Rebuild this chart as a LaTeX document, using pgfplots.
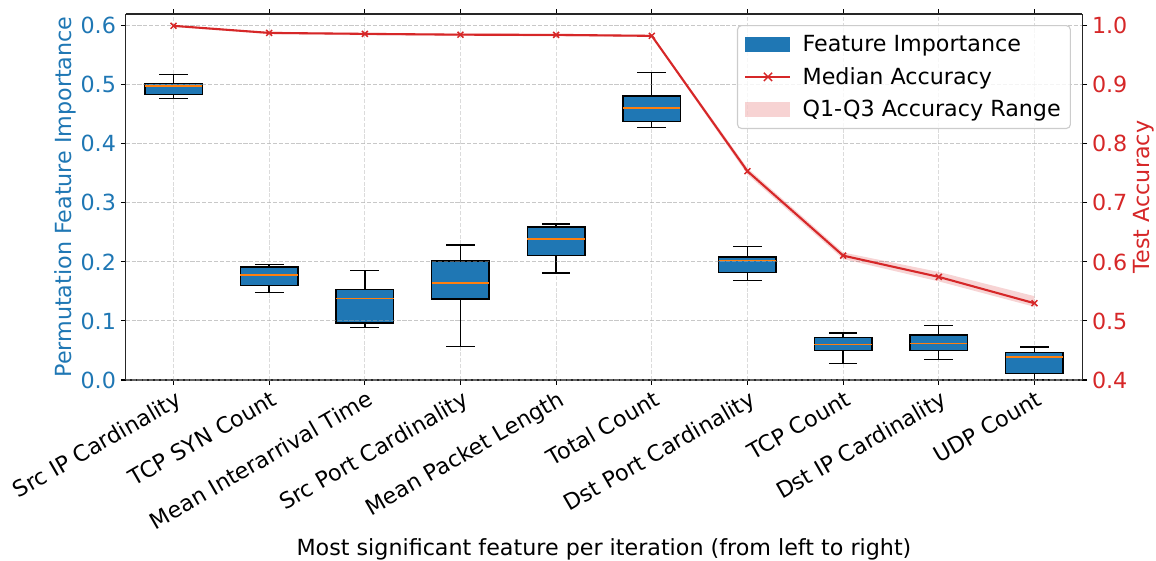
\documentclass[border=0pt]{standalone}
\usepackage{pgfplots}
\pgfplotsset{compat=1.18}
\usepgfplotslibrary{statistics}
\usepackage{fontspec}
\setmainfont{DejaVu Sans}

\definecolor{mplblue}{HTML}{1F77B4}
\definecolor{mplorange}{HTML}{FF7F0E}
\definecolor{mplred}{HTML}{D62728}
\definecolor{gridgray}{HTML}{B0B0B0}
\definecolor{legframe}{HTML}{CCCCCC}

\newcommand\mplfont{\fontsize{16bp}{19bp}\selectfont}

% Median test accuracy per iteration
\pgfplotstableread{
x  med
0  1.000
1  0.988
2  0.9864
3  0.985
4  0.9847
5  0.983
6  0.7537
7  0.6107
8  0.5746
9  0.530
}\acctable

% Q1-Q3 band outline: upper edge (Q3) left to right, lower edge (Q1) back
\pgfplotstableread{
x  y
0  1.000
1  0.990
2  0.988
3  0.987
4  0.986
5  0.985
6  0.759
7  0.616
8  0.583
9  0.542
9  0.524
8  0.567
7  0.605
6  0.748
5  0.981
4  0.982
3  0.983
2  0.984
1  0.986
0  0.998
}\bandtable

\pgfplotsset{
  common/.style={
    scale only axis,
    width=688.8bp, height=263.5bp,
    at={(0,0)}, anchor=south west,
    xmin=-0.5, xmax=9.5,
    tick align=outside,
    major tick length=3.5bp,
    every tick/.style={line width=0.8bp, black},
    tick label style={font=\mplfont},
    label style={font=\mplfont},
    /pgf/number format/assume math mode=true,
    /pgf/number format/fixed,
    /pgf/number format/fixed zerofill,
    /pgf/number format/precision=1,
    axis line style={line width=1bp, black!85},
    grid style={gridgray, opacity=0.45, line width=0.8bp, dash pattern=on 2.96bp off 1.28bp},
  },
  mybox/.style n args={5}{
    boxplot prepared={
      lower whisker=#1, lower quartile=#2, median=#3,
      upper quartile=#4, upper whisker=#5,
      box extend=0.6, whisker extend=0.3},
  },
}

\begin{document}
\begin{tikzpicture}
\useasboundingbox (-90.5bp,-130.3bp) rectangle (741.9bp,273.6bp);

% left axis: permutation importance box plots
\begin{axis}[
  common,
  ymin=0, ymax=0.62,
  ytick={0,0.1,...,0.6},
  xtick={0,...,9},
  xticklabels={Src IP Cardinality, TCP SYN Count, Mean Interarrival Time,
    Src Port Cardinality, Mean Packet Length, Total Count,
    Dst Port Cardinality, TCP Count, Dst IP Cardinality, UDP Count},
  xticklabel style={rotate=30, anchor=north east, inner sep=1bp, yshift=-2bp},
  yticklabel style={text=mplblue},
  axis y line*=left,
  xmajorgrids, ymajorgrids,
  ylabel={Permutation Feature Importance},
  ylabel style={text=mplblue, at={(axis description cs:-0.0567,0.5)}, anchor=base, inner sep=0pt},
  xlabel={Most significant feature per iteration (from left to right)},
  xlabel style={at={(axis description cs:0.5,-0.480)}, anchor=base, inner sep=0pt},
  boxplot/every box/.style={fill=mplblue, draw=black, line width=1bp},
  boxplot/every whisker/.style={draw=black, line width=1bp},
  boxplot/every median/.style={draw=mplorange, line width=1bp},
  boxplot/draw direction=y,
]
\addplot[mybox={0.477}{0.4836}{0.498}{0.502}{0.518}, boxplot/draw position=0] coordinates {};
\addplot[mybox={0.148}{0.160}{0.178}{0.1915}{0.1955}, boxplot/draw position=1] coordinates {};
\addplot[mybox={0.0893}{0.0966}{0.1384}{0.153}{0.185}, boxplot/draw position=2] coordinates {};
\addplot[mybox={0.057}{0.137}{0.164}{0.2017}{0.2288}, boxplot/draw position=3] coordinates {};
\addplot[mybox={0.181}{0.2107}{0.239}{0.2593}{0.264}, boxplot/draw position=4] coordinates {};
\addplot[mybox={0.428}{0.4384}{0.4605}{0.4814}{0.521}, boxplot/draw position=5] coordinates {};
\addplot[mybox={0.1684}{0.1825}{0.2028}{0.2085}{0.226}, boxplot/draw position=6] coordinates {};
\addplot[mybox={0.0282}{0.0503}{0.0599}{0.0723}{0.0797}, boxplot/draw position=7] coordinates {};
\addplot[mybox={0.0345}{0.0503}{0.0616}{0.0763}{0.092}, boxplot/draw position=8] coordinates {};
\addplot[mybox={0.001}{0.0107}{0.039}{0.0469}{0.0559}, boxplot/draw position=9] coordinates {};
\end{axis}

% right axis: test accuracy
\begin{axis}[
  common,
  ymin=0.4, ymax=1.02,
  ytick={0.4,0.5,...,1.0},
  axis y line*=right,
  axis x line=none,
  ymajorgrids,
  yticklabel style={text=mplred},
  ylabel={Test Accuracy},
  ylabel style={text=mplred, at={(axis description cs:1.0708,0.5)}, anchor=base, inner sep=0pt},
  legend cell align=left,
  legend style={
    at={(axis description cs:0.9882,0.970)}, anchor=north east,
    font=\mplfont,
    draw=legframe, line width=0.8bp, rounded corners=3bp,
    fill=white, fill opacity=0.8, text opacity=1,
    inner xsep=5bp, inner ysep=5bp,
    row sep=6bp,
    /tikz/every odd column/.append style={column sep=6bp},
  },
]
\addplot[fill=mplred, fill opacity=0.2, draw=none, forget plot] table[x=x, y=y] {\bandtable};
\addplot[mplred, line width=1.5bp, mark=x, mark size=3bp, mark options={line width=1.1bp}, forget plot]
  table[x=x, y=med] {\acctable};

\addlegendimage{legend image code/.code={\path[fill=mplblue, fill opacity=1, draw=none, sharp corners] (0bp,-5.5bp) rectangle (32.4bp,5.5bp);}}
\addlegendentry{Feature Importance}
\addlegendimage{legend image code/.code={
  \draw[mplred, draw opacity=1, line width=1.5bp, sharp corners] (0bp,0bp) -- (32.4bp,0bp);
  \draw[mplred, draw opacity=1, line width=1.1bp, sharp corners] (13.2bp,-3bp) -- (19.2bp,3bp) (13.2bp,3bp) -- (19.2bp,-3bp);}}
\addlegendentry{Median Accuracy}
\addlegendimage{legend image code/.code={\path[fill=mplred, fill opacity=0.2, draw=none, sharp corners] (0bp,-5.5bp) rectangle (32.4bp,5.5bp);}}
\addlegendentry{Q1-Q3 Accuracy Range}
\end{axis}
\end{tikzpicture}
\end{document}
